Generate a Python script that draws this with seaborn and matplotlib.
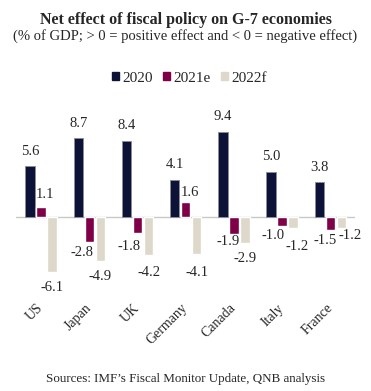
import seaborn as sns
import matplotlib.pyplot as plt
import pandas as pd

countries = ['US', 'Japan', 'UK', 'Germany', 'Canada', 'Italy', 'France']
years = ['2020', '2021e', '2022f']
v2020 = [5.6, 8.7, 8.4, 4.1, 9.4, 5.0, 3.8]
v2021 = [1.1, -2.8, -1.8, 1.6, -1.9, -1.0, -1.5]
v2022 = [-6.1, -4.9, -4.2, -4.1, -2.9, -1.2, -1.2]
colors = ['#0c1238', '#800048', '#ddd8c9']

# label nudges (pixels) where the labels were moved apart in the original
nudge = {
    ('US', '2021e'): (4, 12), ('Germany', '2021e'): (4, 10),
    ('Japan', '2021e'): (-7, -10), ('UK', '2021e'): (-8, -13),
    ('Canada', '2021e'): (-6, -7), ('Italy', '2021e'): (-9, -10),
    ('France', '2021e'): (-5, -10),
    ('UK', '2022f'): (0, -18), ('Germany', '2022f'): (0, -18),
    ('Italy', '2022f'): (4, -19), ('France', '2022f'): (9, -8),
}

df = pd.DataFrame({
    'country': countries * 3,
    'year': [years[0]] * 7 + [years[1]] * 7 + [years[2]] * 7,
    'value': v2020 + v2021 + v2022,
})

sns.set_style('white')
plt.rcParams['font.family'] = ['Liberation Serif', 'DejaVu Serif']

fig = plt.figure(figsize=(3.71, 3.91), dpi=100)
ax = fig.add_axes([0.043, 0.26, 0.914, 0.44])

sns.barplot(data=df, x='country', y='value', hue='year', palette=colors,
            width=0.685, gap=0.14, saturation=1, ax=ax, legend=False)
# thin grey outline on the dark bars
for bar in ax.containers[0]:
    bar.set_edgecolor('#8c8c96')
    bar.set_linewidth(0.7)

# value labels
for yr, cont in zip(years, ax.containers):
    for c, bar in zip(countries, cont):
        h = bar.get_height()
        x = bar.get_x() + bar.get_width() / 2
        dx, dy = nudge.get((c, yr), (0, 15 if h > 0 else -15))
        ax.annotate(f'{h:.1f}', (x, h), xytext=(dx, dy), textcoords='offset pixels',
                    ha='center', va='center', fontsize=10.5)

ax.axhline(0, color='#c8c8c8', lw=1, zorder=0)
ax.set_ylim(-8, 11)
ax.set_xlim(-0.52, 6.51)
ax.set_yticks([])
ax.set_xlabel('')
ax.set_ylabel('')
sns.despine(ax=ax, left=True, bottom=True)
ax.tick_params(axis='x', length=0, pad=12, labelsize=10)
for lab in ax.get_xticklabels():
    lab.set_rotation(45)
    lab.set_ha('right')
    lab.set_va('center')
    lab.set_rotation_mode('anchor')

handles = [plt.Rectangle((0, 0), 1, 1, color=c) for c in colors]
fig.legend(handles, years, loc='center', bbox_to_anchor=(0.511, 0.80), ncol=3,
           frameon=False, fontsize=11, handlelength=0.45, handleheight=0.45,
           columnspacing=0.7, handletextpad=0.2)

fig.text(0.5, 0.949, 'Net effect of fiscal policy on G-7 economies', ha='center',
         va='center', fontsize=11.5, fontweight='bold')
fig.text(0.5, 0.908, '(% of GDP; > 0 = positive effect and < 0 = negative effect)',
         ha='center', va='center', fontsize=10.5)
fig.text(0.5, 0.031, 'Sources: IMF\u2019s Fiscal Monitor Update, QNB analysis',
         ha='center', va='center', fontsize=9.4)

fig.savefig('out.png', dpi=100)
